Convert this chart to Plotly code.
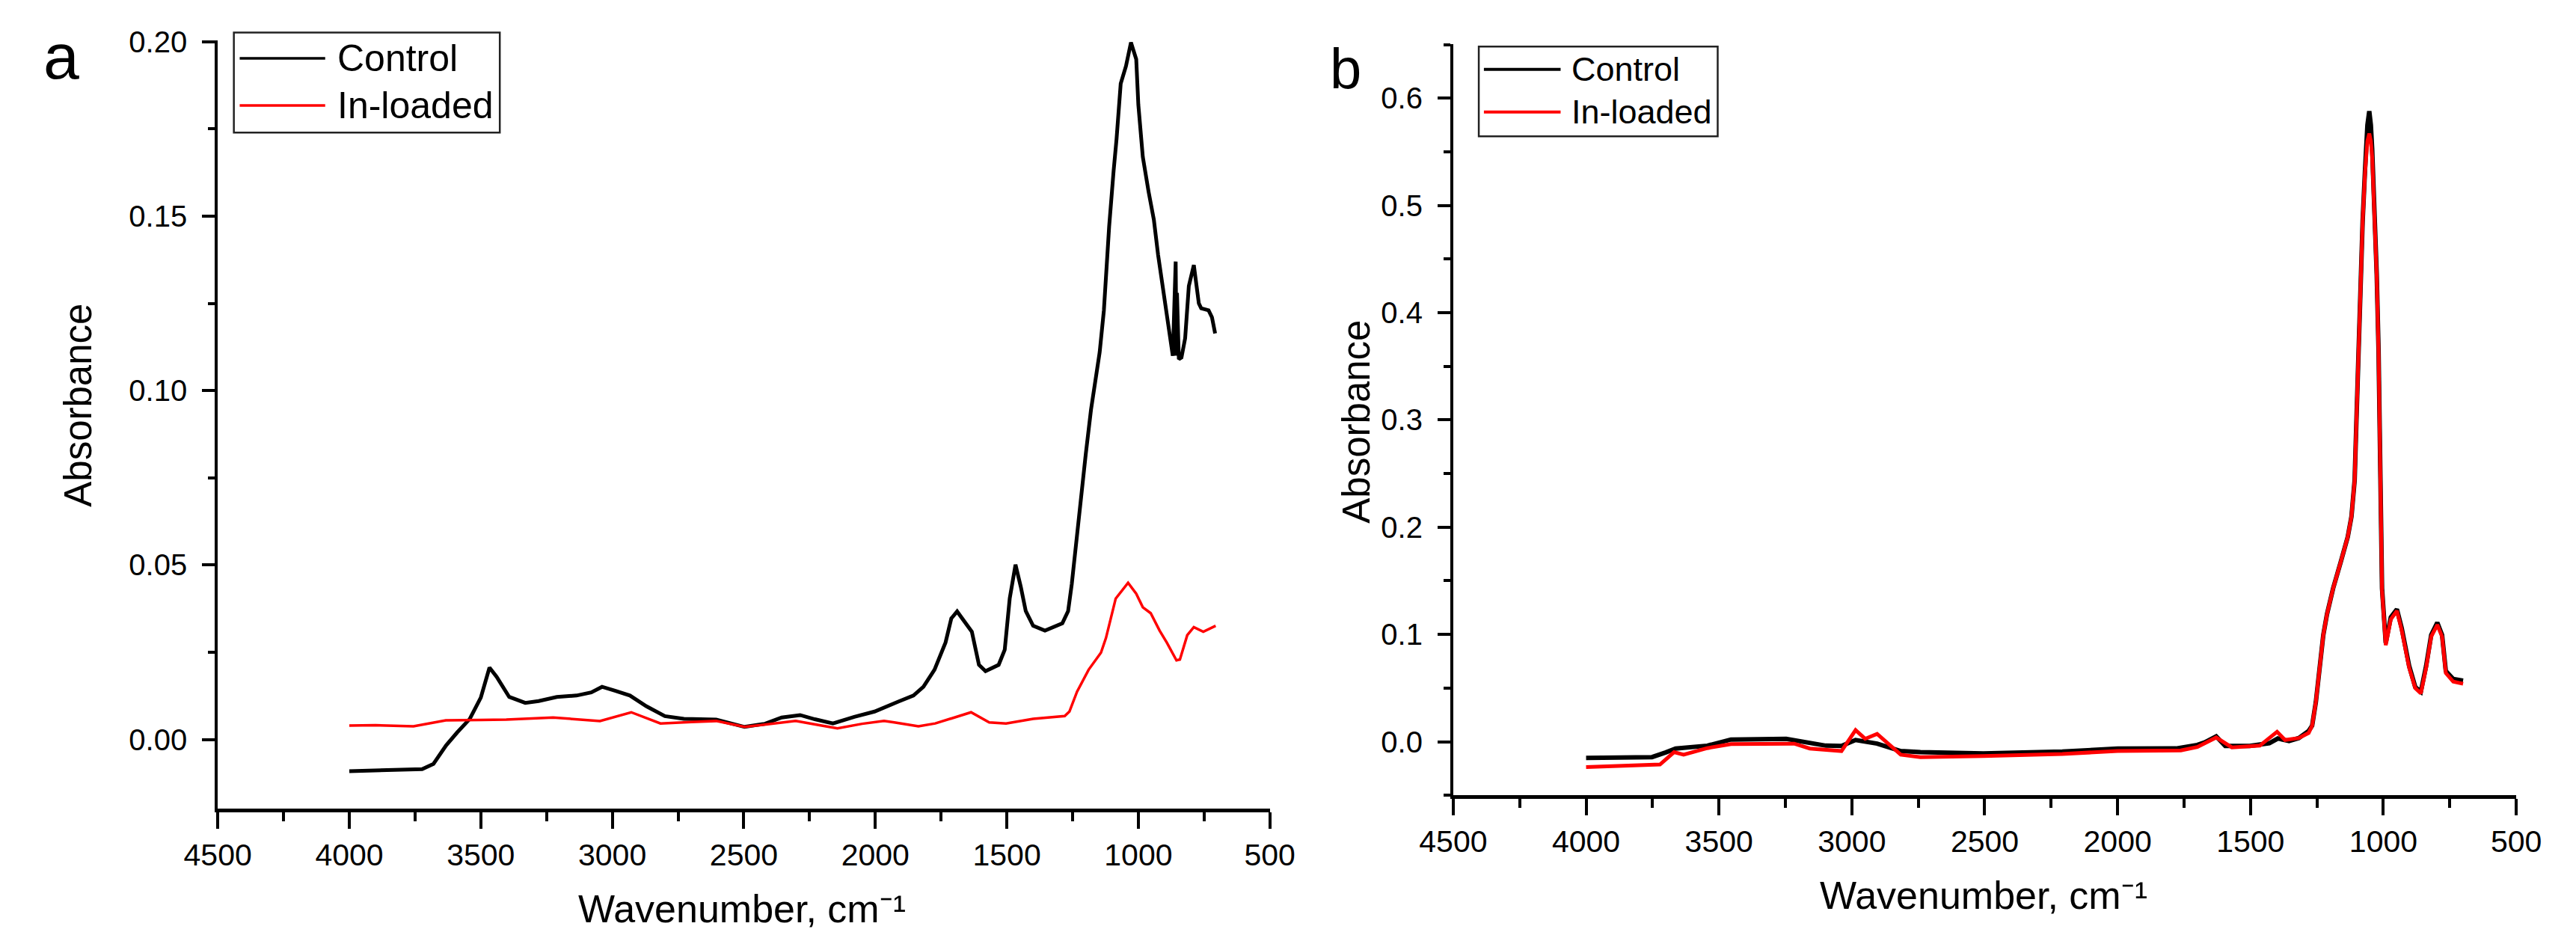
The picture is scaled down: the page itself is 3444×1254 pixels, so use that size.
import plotly.graph_objects as go

# ---------------- data ----------------
# Panel a
wn_ctrl_a = [4000, 3900, 3800, 3723, 3680, 3632, 3590, 3542, 3500, 3467, 3440, 3392, 3331, 3280,
             3211, 3136, 3080, 3039, 2990, 2933, 2870, 2800, 2728, 2605, 2497, 2420, 2356, 2286,
             2230, 2161, 2080, 2003, 1911, 1855, 1817, 1775, 1733, 1711, 1689, 1656, 1633, 1606,
             1581, 1531, 1508, 1489, 1467, 1447, 1428, 1400, 1355, 1289, 1267, 1253, 1233, 1216,
             1200, 1180, 1164, 1147, 1131, 1122, 1111, 1094, 1083, 1067, 1047, 1028, 1008, 1000,
             983, 961, 941, 925, 903, 883, 869, 858, 855, 853, 846, 836, 822, 808, 789, 770, 761,
             733, 720, 708]
abs_ctrl_a = [-0.0091, -0.0088, -0.0086, -0.0085, -0.0070, -0.0017, 0.0020, 0.0059, 0.0120, 0.0206,
              0.0180, 0.0122, 0.0105, 0.0110, 0.0122, 0.0126, 0.0135, 0.0151, 0.0140, 0.0126,
              0.0095, 0.0067, 0.0059, 0.0057, 0.0036, 0.0045, 0.0063, 0.0070, 0.0058, 0.0046,
              0.0065, 0.0080, 0.0109, 0.0126, 0.0151, 0.0200, 0.0278, 0.0347, 0.0367, 0.0333,
              0.0309, 0.0214, 0.0196, 0.0214, 0.0257, 0.0404, 0.0501, 0.0438, 0.0368, 0.0326,
              0.0312, 0.0333, 0.0368, 0.0446, 0.0586, 0.0726, 0.0817, 0.0945, 0.1030, 0.1110,
              0.1230, 0.1350, 0.1470, 0.1630, 0.1720, 0.1880, 0.1930, 0.1998, 0.1950, 0.1820,
              0.1670, 0.1570, 0.1490, 0.1390, 0.1280, 0.1180, 0.1100, 0.1370, 0.1100, 0.1280,
              0.1090, 0.1095, 0.1150, 0.1300, 0.1360, 0.1250, 0.1236, 0.1230, 0.1210, 0.1164]

wn_load_a = [4000, 3900, 3756, 3633, 3500, 3403, 3225, 3120, 3047, 2928, 2880, 2817, 2700, 2605,
             2497, 2400, 2303, 2220, 2144, 2050, 1967, 1928, 1836, 1772, 1697, 1636, 1567, 1503,
             1400, 1280, 1262, 1233, 1189, 1142, 1123, 1086, 1039, 1008, 983, 953, 919, 892, 855,
             842, 814, 789, 753, 706]
abs_load_a = [0.0040, 0.0041, 0.0038, 0.0055, 0.0056, 0.0057, 0.0063, 0.0058, 0.0053, 0.0078,
              0.0065, 0.0046, 0.0050, 0.0053, 0.0036, 0.0045, 0.0053, 0.0042, 0.0032, 0.0045,
              0.0053, 0.0049, 0.0038, 0.0046, 0.0063, 0.0078, 0.0049, 0.0046, 0.0059, 0.0067,
              0.0080, 0.0137, 0.0200, 0.0249, 0.0291, 0.0404, 0.0449, 0.0418, 0.0379, 0.0362,
              0.0312, 0.0278, 0.0227, 0.0229, 0.0299, 0.0322, 0.0309, 0.0326]

# Panel b
wn_ctrl_b = [4000, 3752, 3700, 3663, 3544, 3455, 3247, 3188, 3098, 3039, 2986, 2905, 2816, 2742,
             2505, 2208, 2000, 1780, 1700, 1673, 1629, 1595, 1503, 1429, 1397, 1355, 1318, 1281,
             1268, 1254, 1240, 1226, 1212, 1189, 1161, 1134, 1120, 1108, 1101, 1094, 1088, 1078,
             1069, 1060, 1053, 1047, 1042, 1032, 1025, 1018, 1014, 1009, 1005, 991, 972, 949,
             931, 903, 880, 859, 839, 820, 797, 779, 765, 737, 700]
abs_ctrl_b = [-0.0151, -0.0144, -0.0100, -0.0064, -0.0037, 0.0020, 0.0027, 0.0005, -0.0037, -0.0040,
              0.0016, -0.0018, -0.0087, -0.0098, -0.0110, -0.0092, -0.0064, -0.0063, -0.0030,
              -0.0007, 0.0050, -0.0040, -0.0040, -0.0014, 0.0030, 0.0007, 0.0034, 0.0100, 0.0150,
              0.0370, 0.0680, 0.0995, 0.1190, 0.1430, 0.1670, 0.1910, 0.2100, 0.2440, 0.3020,
              0.3640, 0.4270, 0.4850, 0.5330, 0.5750, 0.5880, 0.5750, 0.5520, 0.4940, 0.4360,
              0.3640, 0.2830, 0.1960, 0.1430, 0.0920, 0.1160, 0.1235, 0.1060, 0.0707, 0.0510,
              0.0466, 0.0707, 0.0995, 0.1110, 0.0995, 0.0660, 0.0585, 0.0570]

wn_load_b = [4000, 3722, 3669, 3633, 3544, 3455, 3217, 3158, 3039, 2986, 2950, 2905, 2816, 2742,
             2505, 2208, 2000, 1762, 1700, 1629, 1570, 1465, 1400, 1370, 1318, 1281, 1268, 1254,
             1240, 1226, 1212, 1189, 1161, 1134, 1120, 1108, 1101, 1094, 1088, 1078, 1069, 1060,
             1053, 1047, 1042, 1032, 1025, 1018, 1014, 1009, 1005, 991, 972, 949, 931, 903, 880,
             859, 839, 820, 797, 779, 765, 737, 700]
abs_load_b = [-0.0236, -0.0213, -0.0098, -0.0121, -0.0060, -0.0023, -0.0018, -0.0064, -0.0087,
              0.0108, 0.0027, 0.0073, -0.0121, -0.0144, -0.0133, -0.0114, -0.0087, -0.0082,
              -0.0050, 0.0039, -0.0053, -0.0037, 0.0092, 0.0016, 0.0034, 0.0082, 0.0150, 0.0370,
              0.0680, 0.0995, 0.1190, 0.1430, 0.1670, 0.1910, 0.2100, 0.2440, 0.3020, 0.3640,
              0.4270, 0.4850, 0.5300, 0.5600, 0.5670, 0.5600, 0.5450, 0.4900, 0.4340, 0.3620,
              0.2810, 0.1940, 0.1410, 0.0900, 0.1140, 0.1220, 0.1040, 0.0690, 0.0500, 0.0450,
              0.0690, 0.0980, 0.1090, 0.0980, 0.0640, 0.0560, 0.0540]

x_ticks = [4500, 4000, 3500, 3000, 2500, 2000, 1500, 1000, 500]
series_names = ["Control", "In-loaded"]
series_colors = ["#000000", "#ff0000"]
panel_labels = ["a", "b"]
x_title = "Wavenumber, cm\u207b\u00b9"
y_title = "Absorbance"

# ---------------- layout helpers ----------------
W, H = 3444, 1254
FONT = "Liberation Sans, Arial, sans-serif"


def px(x):
    return x / W


def py(y):
    return 1 - y / H


fig = go.Figure()
fig.add_trace(go.Scatter(x=wn_ctrl_a, y=abs_ctrl_a, mode="lines", name=series_names[0],
                         line=dict(color=series_colors[0], width=5), xaxis="x", yaxis="y",
                         showlegend=False))
fig.add_trace(go.Scatter(x=wn_load_a, y=abs_load_a, mode="lines", name=series_names[1],
                         line=dict(color=series_colors[1], width=3.5), xaxis="x", yaxis="y",
                         showlegend=False))
fig.add_trace(go.Scatter(x=wn_ctrl_b, y=abs_ctrl_b, mode="lines", name=series_names[0],
                         line=dict(color=series_colors[0], width=6), xaxis="x2", yaxis="y2",
                         showlegend=False))
fig.add_trace(go.Scatter(x=wn_load_b, y=abs_load_b, mode="lines", name=series_names[1],
                         line=dict(color=series_colors[1], width=5), xaxis="x2", yaxis="y2",
                         showlegend=False))

xa_common = dict(range=[4500, 500], tickmode="array", tickvals=x_ticks,
                 ticks="outside", ticklen=22, tickwidth=4, tickcolor="black",
                 showline=True, linewidth=5, linecolor="black", showgrid=False, zeroline=False,
                 tickfont=dict(family=FONT, size=41, color="black"),
                 minor=dict(dtick=250, tick0=500, ticks="outside", ticklen=12, tickwidth=4,
                            tickcolor="black", showgrid=False))
ya_common = dict(ticks="outside", ticklen=17, tickwidth=4, tickcolor="black",
                 showline=True, linewidth=4, linecolor="black", showgrid=False, zeroline=False,
                 ticklabelstandoff=12,
                 tickfont=dict(family=FONT, size=40, color="black"))

fig.update_layout(
    width=W, height=H,
    margin=dict(l=0, r=0, t=0, b=0),
    paper_bgcolor="white", plot_bgcolor="white",
    font=dict(family=FONT, color="black"),
    xaxis=dict(domain=[px(251), px(1691)], anchor="y", **xa_common),
    yaxis=dict(domain=[py(1078), py(34)], anchor="x", range=[-0.0198, 0.2003],
               tick0=0, dtick=0.05, tickformat=".2f",
               minor=dict(dtick=0.025, tick0=0, ticks="outside", ticklen=9, tickwidth=4,
                          tickcolor="black", showgrid=False),
               **ya_common),
    xaxis2=dict(domain=[px(1942), px(3397)], anchor="y2", **xa_common),
    yaxis2=dict(domain=[py(1060), py(39)], anchor="x2", range=[-0.05, 0.6502],
                tick0=0, dtick=0.1, tickformat=".1f",
                minor=dict(dtick=0.05, tick0=0, ticks="outside", ticklen=9, tickwidth=4,
                           tickcolor="black", showgrid=False),
                **ya_common),
)

annotations = []
shapes = []

# axis titles
for cx, cy in [(968, 1214), (2668, 1196)]:
    annotations.append(dict(x=px(cx), y=py(cy), xref="paper", yref="paper",
                            text=x_title, showarrow=False,
                            xanchor="center", yanchor="middle",
                            font=dict(family=FONT, size=52, color="black")))
for cx, cy in [(60, 530), (1810, 552)]:
    annotations.append(dict(x=px(cx), y=py(cy), xref="paper", yref="paper",
                            text=y_title, showarrow=False, textangle=-90,
                            xanchor="center", yanchor="middle",
                            font=dict(family=FONT, size=51, color="black")))

# panel labels
for lab, cx, cy, sz in [(panel_labels[0], 37, 55, 86), (panel_labels[1], 1795, 72, 76)]:
    annotations.append(dict(x=px(cx), y=py(cy), xref="paper", yref="paper", text=lab,
                            showarrow=False, xanchor="center", yanchor="middle",
                            font=dict(family=FONT, size=sz, color="black")))

# legends (drawn as boxes with long line samples like the original)
legends = [
    dict(box=(273, 23, 637, 159), line_x=(281, 398), rows=(58, 122), text_x=413, fsize=50, lw=3.5),
    dict(box=(1977, 42, 2304, 164), line_x=(1984, 2089), rows=(73, 131), text_x=2102, fsize=45, lw=4),
]
for lg in legends:
    x0, y0, x1, y1 = lg["box"]
    shapes.append(dict(type="rect", xref="paper", yref="paper", x0=px(x0), x1=px(x1),
                       y0=py(y1), y1=py(y0), line=dict(color="#222222", width=2.5),
                       fillcolor="white", layer="above"))
    for name, color, ry in zip(series_names, series_colors, lg["rows"]):
        shapes.append(dict(type="line", xref="paper", yref="paper",
                           x0=px(lg["line_x"][0]), x1=px(lg["line_x"][1]),
                           y0=py(ry), y1=py(ry), line=dict(color=color, width=lg["lw"]),
                           layer="above"))
        annotations.append(dict(x=px(lg["text_x"]), y=py(ry), xref="paper", yref="paper",
                                text=name, showarrow=False, xanchor="left", yanchor="middle",
                                font=dict(family=FONT, size=lg["fsize"], color="black")))

fig.update_layout(annotations=annotations, shapes=shapes)
fig.write_html("out.html", config={"displayModeBar": False},
               post_script="document.body.style.margin='0px';")
